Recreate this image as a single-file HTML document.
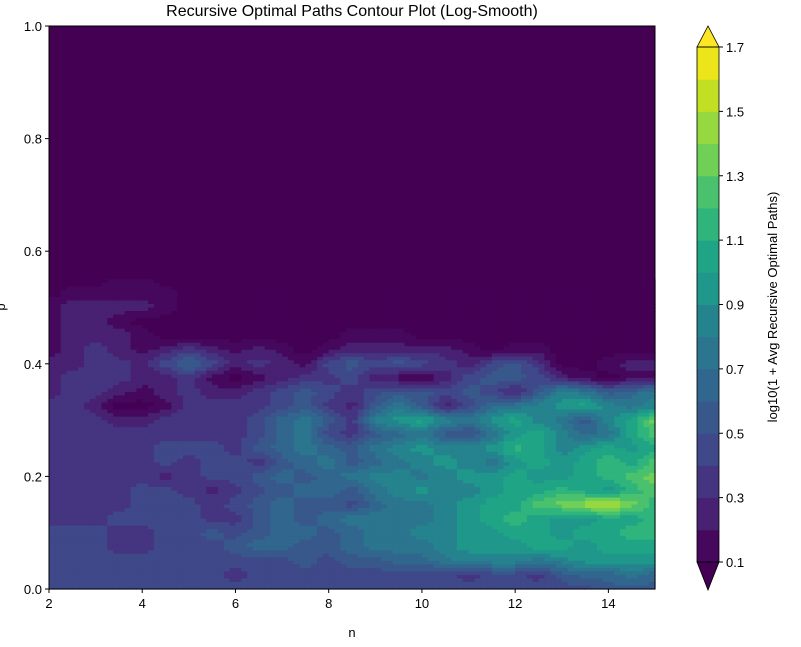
<!DOCTYPE html>
<html><head><meta charset="utf-8"><style>
html,body{margin:0;padding:0;background:#fff;}
svg{display:block;font-family:"Liberation Sans","DejaVu Sans",sans-serif;}
</style></head><body>
<svg id="chart" width="801" height="647" viewBox="0 0 801 647">
<text x="352" y="16" font-size="16" text-anchor="middle" fill="#000">Recursive Optimal Paths Contour Plot (Log-Smooth)</text>
<g id="plot"></g>
<g id="axes"></g>
<g id="cbar"></g>
</svg>
<script>
const nValues=[2,2.5,3,3.5,4,4.5,5,5.5,6,6.5,7,7.5,8,8.5,9,9.5,10,10.5,11,11.5,12,12.5,13,13.5,14,14.5,15];
const pValues=[0.55,0.525,0.5,0.475,0.45,0.425,0.4,0.375,0.35,0.325,0.3,0.275,0.25,0.225,0.2,0.175,0.15,0.125,0.1,0.075,0.05,0.025,0];
const zGrid=[
[.05,.05,.05,.15,.15,.05,.05,.05,.05,.05,.05,.05,.05,.05,.05,.05,.05,.05,.05,.05,.05,.05,.05,.05,.05,.05,.05],
[.05,.15,.15,.15,.15,.15,.05,.05,.05,.05,.05,.05,.05,.05,.05,.05,.05,.05,.05,.05,.05,.05,.05,.05,.05,.05,.05],
[.15,.25,.25,.25,.25,.15,.05,.05,.05,.05,.05,.05,.05,.05,.05,.05,.05,.05,.05,.05,.05,.05,.05,.05,.05,.05,.05],
[.15,.25,.25,.15,.05,.05,.05,.05,.05,.05,.05,.05,.05,.05,.05,.05,.05,.05,.05,.05,.05,.05,.05,.05,.05,.05,.05],
[.15,.25,.25,.25,.15,.05,.05,.05,.05,.05,.05,.05,.05,.15,.15,.15,.05,.05,.05,.05,.05,.05,.05,.05,.05,.05,.05],
[.15,.25,.35,.25,.15,.25,.35,.25,.15,.25,.15,.05,.15,.25,.25,.25,.25,.25,.15,.05,.15,.15,.05,.05,.05,.05,.05],
[.25,.25,.35,.35,.25,.45,.65,.45,.25,.35,.25,.15,.45,.55,.45,.55,.45,.35,.25,.45,.55,.35,.05,.05,.15,.25,.25],
[.25,.35,.35,.35,.25,.25,.35,.15,.05,.15,.25,.35,.35,.45,.25,.15,.05,.25,.45,.55,.55,.45,.25,.15,.05,.15,.15],
[.25,.35,.35,.25,.15,.25,.35,.25,.25,.35,.45,.55,.45,.35,.45,.55,.55,.45,.55,.45,.25,.55,.85,.75,.55,.65,.75],
[.35,.35,.25,.05,.05,.15,.35,.35,.35,.35,.45,.55,.35,.25,.55,.75,.55,.25,.45,.65,.75,.85,.95,1.05,.85,.75,.85],
[.35,.35,.35,.25,.25,.35,.35,.35,.35,.45,.65,.75,.55,.35,.85,.95,1.05,.85,.75,.95,1.05,.85,.75,.55,.85,1.05,1.35],
[.35,.35,.35,.35,.35,.35,.35,.35,.35,.45,.65,.75,.45,.35,.55,.65,.75,.55,.45,.75,.95,1.05,.85,.65,.75,1.05,1.25],
[.35,.35,.35,.35,.35,.45,.45,.45,.35,.55,.65,.75,.65,.55,.75,.85,.95,.85,.85,.95,1.15,1.05,.85,.95,1.05,.95,1.05],
[.35,.35,.35,.35,.35,.45,.35,.45,.45,.35,.55,.65,.75,.55,.65,.75,.85,.95,.85,.75,.95,1.05,.95,1.05,1.15,1.05,1.25],
[.35,.35,.35,.35,.35,.25,.35,.45,.45,.55,.65,.55,.65,.75,.85,.85,.75,.85,.95,.95,1.05,.95,.95,1.05,1.15,1.25,1.35],
[.35,.35,.35,.35,.45,.45,.35,.25,.35,.45,.55,.65,.65,.55,.75,.85,.95,.85,.85,.95,1.05,1.05,1.15,1.05,.95,1.15,1.25],
[.35,.35,.35,.35,.45,.45,.45,.35,.45,.55,.65,.55,.55,.45,.65,.75,.75,.85,.95,1.05,1.05,1.25,1.35,1.45,1.55,1.35,1.15],
[.35,.35,.35,.45,.45,.45,.45,.35,.35,.55,.65,.55,.65,.75,.75,.75,.75,.85,.95,1.05,1.15,1.05,.95,.95,1.05,1.05,1.15],
[.45,.45,.45,.35,.35,.45,.45,.55,.45,.55,.65,.65,.55,.65,.75,.75,.85,.85,.95,.95,1.05,1.05,.95,1.05,1.05,1.15,1.15],
[.45,.45,.45,.35,.35,.45,.45,.45,.55,.65,.65,.55,.55,.65,.75,.75,.75,.85,.95,.95,.95,1.05,1.05,.95,1.05,1.05,1.05],
[.45,.45,.45,.45,.45,.45,.45,.45,.45,.45,.45,.55,.45,.55,.55,.65,.65,.75,.85,.85,.85,.75,.85,.95,.95,.95,.95],
[.45,.45,.45,.45,.45,.45,.45,.45,.35,.45,.45,.45,.45,.45,.45,.45,.45,.45,.35,.45,.45,.35,.55,.65,.65,.75,.65],
[.45,.45,.45,.45,.45,.45,.45,.45,.45,.45,.45,.45,.45,.45,.45,.45,.45,.45,.45,.45,.45,.45,.45,.45,.55,.55,.55]
];
const xTicks=[2,4,6,8,10,12,14];
const yTicks=[0,0.2,0.4,0.6,0.8,1.0];
const levelTicks=[0.1,0.3,0.5,0.7,0.9,1.1,1.3,1.5,1.7];
const levels=[0.1,0.2,0.3,0.4,0.5,0.6,0.7,0.8,0.9,1.0,1.1,1.2,1.3,1.4,1.5,1.6,1.7];
const underColor='#440154', overColor='#fde725';
const bandColors=['#46085c','#482172','#453581','#3f4889','#38588c','#31678e','#2b758e','#25838e','#1f978b','#20a486','#2fb47c','#4ac16d','#70cf57','#95d840','#c2df23','#ebe51a'];

const NS='http://www.w3.org/2000/svg';
const X0=49,X1=655,Y0=589,Y1=26;
const xs=n=>X0+(n-2)/(15-2)*(X1-X0);
const ys=p=>Y0-p*(Y0-Y1);
function colorFor(v){
  if(v<levels[0])return underColor;
  for(let i=0;i<levels.length-1;i++){ if(v<levels[i+1]) return bandColors[i]; }
  return overColor;
}
function mk(tag,attrs,parent){const e=document.createElementNS(NS,tag);for(const k in attrs)e.setAttribute(k,attrs[k]);parent.appendChild(e);return e;}

const plot=document.getElementById('plot');
const bg=mk('rect',{x:X0,y:Y1,width:X1-X0,height:Y0-Y1,fill:underColor},plot);


const SUB=4;
for(let r=0;r<pValues.length-1;r++){
  for(let c=0;c<nValues.length-1;c++){
    const z00=zGrid[r][c],z01=zGrid[r][c+1],z10=zGrid[r+1][c],z11=zGrid[r+1][c+1];
    const xa=xs(nValues[c]),xb=xs(nValues[c+1]);
    const ya=ys(pValues[r]),yb=ys(pValues[r+1]);
    for(let i=0;i<SUB;i++){for(let j=0;j<SUB;j++){
      const ty=(i+0.5)/SUB,tx=(j+0.5)/SUB;
      const v=(z00*(1-tx)+z01*tx)*(1-ty)+(z10*(1-tx)+z11*tx)*ty;
      const w=(xb-xa)/SUB,h=(yb-ya)/SUB;
      const cell=mk('rect',{x:(xa+j*w).toFixed(2),y:(ya+i*h).toFixed(2),width:(w+0.6).toFixed(2),height:(h+0.6).toFixed(2),fill:colorFor(v)},plot);
      
      
    }}
  }
}

const axes=document.getElementById('axes');
const frame=mk('rect',{x:X0,y:Y1,width:X1-X0,height:Y0-Y1,fill:'none',stroke:'#000','stroke-width':1},axes);


xTicks.forEach(t=>{
  const x=xs(t);
  const tk=mk('line',{x1:x,y1:Y0,x2:x,y2:Y0+4,stroke:'#000'},axes);
  
  
  const lb=mk('text',{x:x,y:Y0+19,'font-size':13,'text-anchor':'middle'},axes);
  lb.textContent=String(t);
  
  
});
yTicks.forEach(t=>{
  const y=ys(t);
  const tk=mk('line',{x1:X0-4,y1:y,x2:X0,y2:y,stroke:'#000'},axes);
  
  
  const lb=mk('text',{x:X0-7,y:y+5,'font-size':13,'text-anchor':'end'},axes);
  lb.textContent=t.toFixed(1);
  
  
});
const xl=mk('text',{x:(X0+X1)/2,y:637,'font-size':13,'text-anchor':'middle'},axes);
xl.textContent='n';


const yl=mk('text',{x:0,y:0,'font-size':13,'text-anchor':'middle',transform:'translate(5,307) rotate(-90)'},axes);
yl.textContent='p';



const cb=document.getElementById('cbar');
const CX0=697,CX1=719,CB0=562,CB1=47;
const cy=v=>CB0-(v-levels[0])/(levels[levels.length-1]-levels[0])*(CB0-CB1);
for(let i=0;i<levels.length-1;i++){
  const b=mk('rect',{x:CX0,y:cy(levels[i+1]),width:CX1-CX0,height:cy(levels[i])-cy(levels[i+1])+0.5,fill:bandColors[i]},cb);
  
  
}
const tri1=mk('polygon',{points:`${CX0},${CB1} ${(CX0+CX1)/2},26 ${CX1},${CB1}`,fill:overColor,stroke:'#000','stroke-width':0.8},cb);


const tri2=mk('polygon',{points:`${CX0},${CB0} ${(CX0+CX1)/2},590 ${CX1},${CB0}`,fill:underColor,stroke:'#000','stroke-width':0.8},cb);


const cbo=mk('rect',{x:CX0,y:CB1,width:CX1-CX0,height:CB0-CB1,fill:'none',stroke:'#000','stroke-width':0.8},cb);


levelTicks.forEach(t=>{
  const y=cy(t);
  const tk=mk('line',{x1:CX1,y1:y,x2:CX1+4,y2:y,stroke:'#000'},cb);
  
  
  const lb=mk('text',{x:CX1+7,y:y+5,'font-size':13},cb);
  lb.textContent=t.toFixed(1);
  
  
});
const cl=mk('text',{x:0,y:0,'font-size':13,'text-anchor':'middle',transform:'translate(777,307) rotate(-90)'},cb);
cl.textContent='log10(1 + Avg Recursive Optimal Paths)';


</script>
</body></html>
